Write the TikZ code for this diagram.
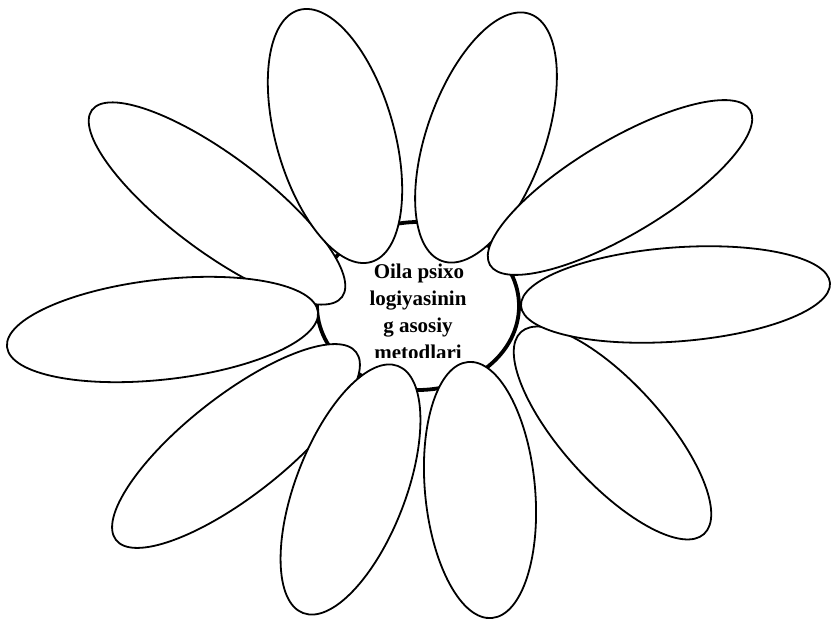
\documentclass[tikz,border=0pt]{standalone}
\usepackage{fontspec}
\setmainfont{Liberation Serif}
\begin{document}
\begin{tikzpicture}[x=1pt,y=-1pt,
  petalsty/.style={draw=black,fill=white,line width=1.8pt},
  hubsty/.style={draw=black,fill=white,line width=3.8pt},
  labelsty/.style={inner sep=0pt,anchor=base,font=\fontsize{21}{25}\selectfont\bfseries}]
\newcommand\drawpetal[5]{%
  \pgfmathsetmacro\pcx{(#1+#3)/2}%
  \pgfmathsetmacro\pcy{(#2+#4)/2}%
  \pgfmathsetmacro\pra{veclen((#3-#1)/100,(#4-#2)/100)*50}%
  \pgfmathsetmacro\pang{atan2(-(#4-#2),#3-#1)}%
  \draw[petalsty,shift={(\pcx,\pcy)},rotate=\pang] (0,0) ellipse [x radius=\pra, y radius=#5];%
}
\useasboundingbox (0,0) rectangle (832,620);
\fill[white] (0,0) rectangle (832,620);
% centre
\draw[hubsty] (418,306) ellipse [x radius=101, y radius=84];
\begin{scope}
  \clip (300,200) rectangle (540,357);
  \node[labelsty] (t1) at (419,278) {Oila psixo};
  \node[labelsty] (t2) at (418,305) {logiyasinin};
  \node[labelsty] (t3) at (418,332) {g asosiy};
  \node[labelsty] (t4) at (418,359) {metodlari};
\end{scope}
% petals: inner end, outer end, half width
\drawpetal{342}{297}{92}{110}{48}   % upper left
\drawpetal{371}{262}{299}{10}{59}   % top left
\drawpetal{442}{261}{530}{14}{59}   % top right
\drawpetal{490}{265}{750}{110}{47}  % upper right
\drawpetal{521}{332}{704}{534}{50}  % lower right
\drawpetal{521}{306}{830}{283}{47}  % right
\drawpetal{318}{312}{7}{347}{50}    % left
\drawpetal{356}{352}{116}{540}{50}  % lower left
\drawpetal{398}{366}{303}{613}{55}  % bottom left
\drawpetal{468}{362}{492}{618}{55}  % bottom right
\end{tikzpicture}
\end{document}
